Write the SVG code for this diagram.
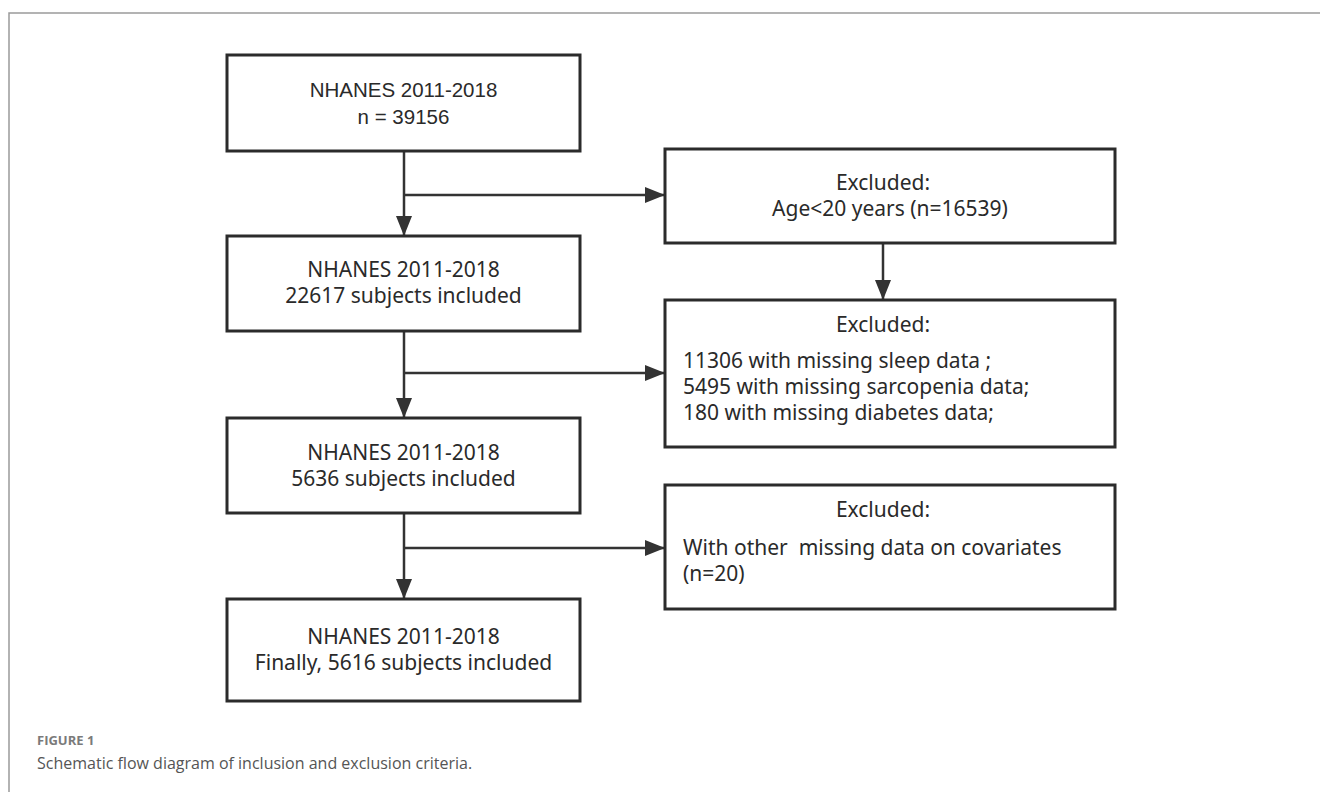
<svg xmlns="http://www.w3.org/2000/svg" width="1320" height="792" viewBox="0 0 1320 792">
<style>
.box{fill:#fff;stroke:#2b2b2b;stroke-width:3}
.t{font-family:"Noto Sans","Open Sans",sans-serif;font-size:21px;fill:#2a2a2a}
.a{font-family:"Liberation Sans",Arial,sans-serif;font-size:20.5px;fill:#2a2a2a}
.c{text-anchor:middle}
.ln{stroke:#333;stroke-width:2.5;fill:none}
.frame{stroke:#9a9a9a;stroke-width:1.5;fill:none}
.fig{font-family:"Open Sans","Noto Sans",sans-serif;font-size:13px;font-weight:bold;fill:#7a7a7a}
.cap{font-family:"Open Sans","Noto Sans",sans-serif;font-size:16px;fill:#555}
</style>
<defs>
<marker id="ah" markerUnits="userSpaceOnUse" markerWidth="20" markerHeight="16" refX="20" refY="8" orient="auto">
<path d="M0,0 L20,8 L0,16 z" fill="#333"/>
</marker>
</defs>
<rect width="1320" height="792" fill="#fff"/>
<path class="frame" d="M9,792 V13 H1320"/>
<g id="connectors">
<line class="ln" x1="404" y1="151" x2="404" y2="236" marker-end="url(#ah)"/>
<line class="ln" x1="404" y1="195" x2="665" y2="195" marker-end="url(#ah)"/>
<line class="ln" x1="404" y1="331" x2="404" y2="418" marker-end="url(#ah)"/>
<line class="ln" x1="404" y1="373" x2="665" y2="373" marker-end="url(#ah)"/>
<line class="ln" x1="404" y1="513" x2="404" y2="599" marker-end="url(#ah)"/>
<line class="ln" x1="404" y1="548" x2="665" y2="548" marker-end="url(#ah)"/>
<line class="ln" x1="883" y1="243" x2="883" y2="300" marker-end="url(#ah)"/>
</g>
<g id="n1"><rect class="box" x="227" y="55" width="353" height="96"/>
<text class="a c" x="403.5" y="97">NHANES 2011-2018</text>
<text class="a c" x="403.5" y="124">n = 39156</text></g>
<g id="n2"><rect class="box" x="227" y="236" width="353" height="95"/>
<text class="t c" x="403.5" y="277">NHANES 2011-2018</text>
<text class="t c" x="403.5" y="303">22617 subjects included</text></g>
<g id="n3"><rect class="box" x="227" y="418" width="353" height="95"/>
<text class="t c" x="403.5" y="460">NHANES 2011-2018</text>
<text class="t c" x="403.5" y="486">5636 subjects included</text></g>
<g id="n4"><rect class="box" x="227" y="599" width="353" height="102"/>
<text class="t c" x="403.5" y="644">NHANES 2011-2018</text>
<text class="t c" x="403.5" y="670">Finally, 5616 subjects included</text></g>
<g id="r1"><rect class="box" x="665" y="149" width="450" height="94"/>
<text class="t c" x="883" y="190">Excluded:</text>
<text class="t c" x="890" y="216">Age&lt;20 years (n=16539)</text></g>
<g id="r2"><rect class="box" x="665" y="300" width="450" height="147"/>
<text class="t c" x="883" y="332">Excluded:</text>
<text class="t" x="683" y="368">11306 with missing sleep data ;</text>
<text class="t" x="683" y="394">5495 with missing sarcopenia data;</text>
<text class="t" x="683" y="420">180 with missing diabetes data;</text></g>
<g id="r3"><rect class="box" x="665" y="485" width="450" height="124"/>
<text class="t c" x="883" y="517">Excluded:</text>
<text class="t" x="683" y="555" style="white-space:pre">With other  missing data on covariates</text>
<text class="t" x="683" y="581">(n=20)</text></g>
<g id="caption">
<text class="fig" x="37" y="745">FIGURE 1</text>
<text class="cap" x="37" y="769">Schematic flow diagram of inclusion and exclusion criteria.</text>
</g>
</svg>
